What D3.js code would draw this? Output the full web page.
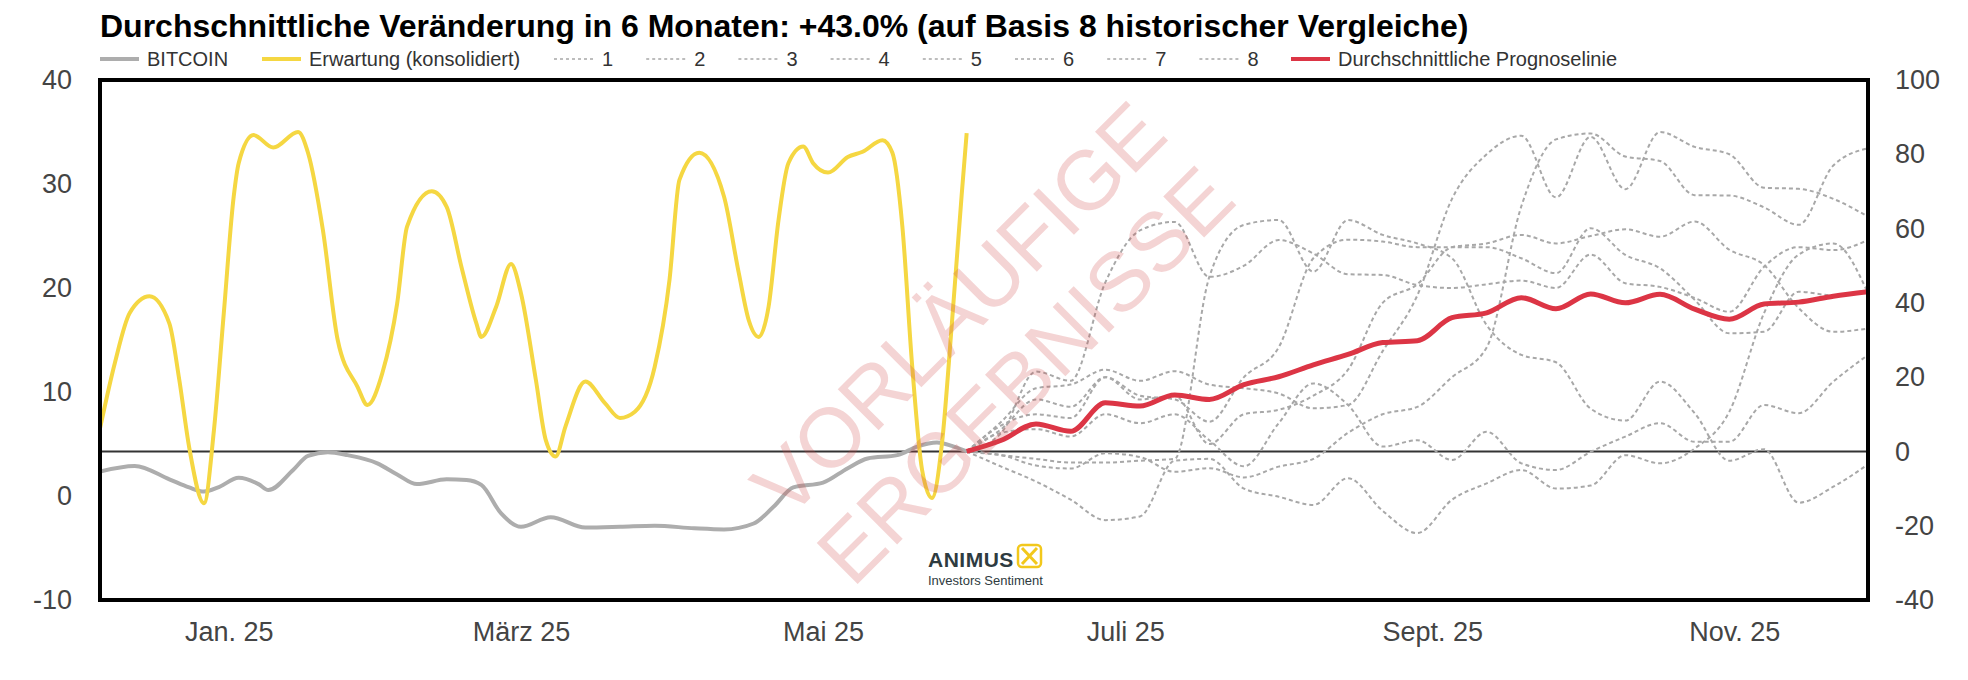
<!DOCTYPE html>
<html><head><meta charset="utf-8">
<script src="https://cdn.jsdelivr.net/npm/d3@7"></script>
<style>
body{margin:0;background:#fff;}
svg{display:block;font-family:"Liberation Sans",Arial,Helvetica,sans-serif;}
</style></head><body>
<svg id="chart" width="1968" height="680"></svg>
<script>
const titleText = "Durchschnittliche Veränderung in 6 Monaten: +43.0% (auf Basis 8 historischer Vergleiche)";
const monthTicks = ["2025-01-01","2025-03-01","2025-05-01","2025-07-01","2025-09-01","2025-11-01"];
const monthLabels = ["Jan. 25","März 25","Mai 25","Juli 25","Sept. 25","Nov. 25"];
const leftTicks = [-10,0,10,20,30,40];
const rightTicks = [-40,-20,0,20,40,60,80,100];
const xDomain = ["2024-12-06","2025-11-28"];

const btcDates = ["2024-12-06","2024-12-13","2024-12-20","2024-12-24","2024-12-27","2024-12-30","2025-01-03","2025-01-07","2025-01-09","2025-01-14","2025-01-17","2025-01-21","2025-01-25","2025-01-31","2025-02-04","2025-02-08","2025-02-14","2025-02-18","2025-02-21","2025-02-25","2025-03-01","2025-03-07","2025-03-14","2025-03-21","2025-03-28","2025-04-05","2025-04-11","2025-04-17","2025-04-21","2025-04-25","2025-05-01","2025-05-06","2025-05-10","2025-05-16","2025-05-20","2025-05-24","2025-05-27","2025-05-30"];
const btcValues = [-5.4,-3.9,-7.5,-9.7,-10.8,-9.6,-7.1,-8.8,-10.4,-5,-1.2,-0.2,-1,-3.2,-6.2,-8.8,-7.5,-7.7,-9,-16.7,-20.3,-17.7,-20.5,-20.3,-20,-20.7,-21,-19.4,-14.9,-9.7,-8.4,-4.5,-1.9,-1,1.3,2.4,1.5,0];

const expDates = ["2024-12-06","2024-12-09","2024-12-12","2024-12-16","2024-12-20","2024-12-22","2024-12-24","2024-12-27","2024-12-29","2024-12-31","2025-01-02","2025-01-03","2025-01-06","2025-01-10","2025-01-15","2025-01-17","2025-01-20","2025-01-23","2025-01-27","2025-01-29","2025-02-01","2025-02-04","2025-02-06","2025-02-11","2025-02-14","2025-02-17","2025-02-20","2025-02-21","2025-02-24","2025-02-27","2025-03-01","2025-03-04","2025-03-06","2025-03-08","2025-03-10","2025-03-14","2025-03-18","2025-03-21","2025-03-24","2025-03-28","2025-03-31","2025-04-02","2025-04-06","2025-04-11","2025-04-14","2025-04-16","2025-04-18","2025-04-20","2025-04-22","2025-04-24","2025-04-27","2025-04-29","2025-05-02","2025-05-06","2025-05-09","2025-05-13","2025-05-15","2025-05-17","2025-05-19","2025-05-21","2025-05-23","2025-05-25","2025-05-27","2025-05-29","2025-05-30"];
const expValues = [6.5,12.8,17.6,19.2,16.6,11.2,4.7,-0.7,6.3,17.6,28.8,32,34.7,33.5,35,33,25.6,15,10.5,8.75,11.8,18.5,25.9,29.3,27.8,22,16.6,15.3,18.2,22.3,19.5,11.2,5.4,3.8,6.7,11,8.9,7.5,8.1,12.4,20.8,30.4,33,28.8,21.4,16.9,15.3,18.2,26.5,32,33.6,32,31.1,32.6,33.1,34.2,33,26,12.5,2.5,-0.2,5,16.5,29,34.9];

const forecastDates = ["2025-05-30","2025-06-06","2025-06-13","2025-06-20","2025-06-27","2025-07-04","2025-07-11","2025-07-18","2025-07-25","2025-08-01","2025-08-08","2025-08-15","2025-08-22","2025-08-29","2025-09-05","2025-09-12","2025-09-19","2025-09-26","2025-10-03","2025-10-10","2025-10-17","2025-10-24","2025-10-31","2025-11-07","2025-11-14","2025-11-21","2025-11-28"];
const avgForecast = [0,3.0,7.4,5.4,13.1,12.2,15.2,14,18,20.1,23.3,26.1,29.3,29.8,36,37.3,41.4,38.4,42.4,40,42.3,38.3,35.6,39.7,40.2,41.8,43];

const hist1 = [0,-1,-3.8,-4.6,-0.5,-1.5,-5.5,-4.5,-7,-4.1,-2,5,10,12,20,28,66,84,85.6,79.4,78.2,69,68.9,65.7,61,77,81.6];
const hist2 = [0,8,17,18,22,19,21.6,18,17,15.6,11.6,12.5,27,42,68,80,85,68.4,84.7,70.6,86,82,80,71,70.7,68,63.2];
const hist3 = [0,6,14,12,20,15,14,8,20,28,52,57,56.5,55,55,55,52,48,60.1,52.9,49.3,40.8,31.8,32.2,43,42,43.5];
const hist4 = [0,5,21.5,19,45.5,59.5,61.8,47,50,56.9,53.3,47.7,47.5,44.8,44,45,46,44,53,45.3,44.3,41.3,37.6,49.7,55,54.2,56.9];
const hist5 = [0,7,10,9,20,14,15,2,10,11.2,15,22,40,45,55,56,58.3,56,58,59.8,57.8,61.9,54.3,50.2,38.6,32.2,33.1];
const hist6 = [0,-1,-2,-3,-3,-2.5,-2,47,61,62.3,48.4,62.3,58.3,56,52,34,26,24,11.5,8.3,18.8,10.3,-2.5,0.6,-13.8,-9.5,-3.5];
const hist7 = [0,5,6,4,10,7.6,10,3,-4,7.6,18.3,12.5,1.3,3,-2.3,5.3,-3.2,-5,-0.1,4,7.6,2.6,2.6,12.5,10.3,18.8,26];
const hist8 = [0,-4.1,-8.1,-13,-18.5,-17.5,-2.5,-2,-10,-12.2,-14.4,-7.2,-16,-22,-13,-8.6,-5,-10,-9.2,-1,-3.2,0.8,10.7,37.2,53,56,42.6];
const histNames = ["1","2","3","4","5","6","7","8"];
const legendNames = ["BITCOIN","Erwartung (konsolidiert)","Durchschnittliche Prognoselinie"];
const watermarkLines = ["VORLÄUFIGE","ERGEBNISSE"];
const logoTexts = ["ANIMUS","Investors Sentiment"];

const P = {l:100, r:1868, t:80, b:600};
const parse = d3.utcParse("%Y-%m-%d");
const svg = d3.select("#chart");
svg.append("rect").attr("width",1968).attr("height",680).attr("fill","#fff");

const x = d3.scaleUtc().domain(xDomain.map(parse)).range([P.l,P.r]);
const yL = d3.scaleLinear().domain([-10,40]).range([P.b,P.t]);
const yR = d3.scaleLinear().domain([-40,100]).range([P.b,P.t]);

svg.append("defs").append("clipPath").attr("id","plotclip")
  .append("rect").attr("x",P.l).attr("y",P.t).attr("width",P.r-P.l).attr("height",P.b-P.t);

svg.append("text").attr("x",100).attr("y",37).attr("font-size",32).attr("font-weight","bold")
  .attr("fill","#000").text(titleText);

const fmt = d => String(d);
const axL = svg.append("g").attr("transform",`translate(${P.l-28},0)`)
  .call(d3.axisLeft(yL).tickValues(leftTicks).tickSize(0).tickPadding(0).tickFormat(fmt));
const axR = svg.append("g").attr("transform",`translate(${P.r+27},0)`)
  .call(d3.axisRight(yR).tickValues(rightTicks).tickSize(0).tickPadding(0).tickFormat(fmt));
const axB = svg.append("g").attr("transform",`translate(0,${P.b+22})`)
  .call(d3.axisBottom(x).tickValues(monthTicks.map(parse)).tickSize(0).tickPadding(0)
    .tickFormat((d,i)=>monthLabels[i]));
[axL,axR,axB].forEach(a=>{a.select(".domain").remove();
  a.attr("font-size",27).attr("font-family","'Liberation Sans',Arial,sans-serif");
  a.selectAll("text").attr("font-size",27).attr("fill","#444");});
axB.selectAll("text").attr("dy","0.71em");

const plot = svg.append("g").attr("clip-path","url(#plotclip)");
plot.append("line").attr("x1",P.l).attr("x2",P.r).attr("y1",yR(0)).attr("y2",yR(0))
  .attr("stroke","#333").attr("stroke-width",2);

const curve = d3.curveMonotoneX;
const lineR = (dates, vals) => d3.line().curve(curve).x((d,i)=>x(parse(dates[i]))).y(d=>yR(d))(vals);
const lineL = (dates, vals) => d3.line().curve(curve).x((d,i)=>x(parse(dates[i]))).y(d=>yL(d))(vals);

const hists = [hist1,hist2,hist3,hist4,hist5,hist6,hist7,hist8];
hists.forEach(h=>{
  plot.append("path").attr("d",lineR(forecastDates,h)).attr("fill","none")
    .attr("stroke","#a8a8a8").attr("stroke-width",2).attr("stroke-dasharray","4,3");
});
plot.append("path").attr("d",lineR(btcDates,btcValues)).attr("fill","none")
  .attr("stroke","#adadad").attr("stroke-width",4).attr("stroke-linejoin","round");
plot.append("path").attr("d",lineL(expDates,expValues)).attr("fill","none")
  .attr("stroke","#f5d742").attr("stroke-width",4).attr("stroke-linejoin","round");
plot.append("path").attr("d",lineR(forecastDates,avgForecast)).attr("fill","none")
  .attr("stroke","#dc3545").attr("stroke-width",5).attr("stroke-linejoin","round");

const cx=(P.l+P.r)/2+8, cy=(P.t+P.b)/2+2;
const wm = svg.append("g").attr("transform",`translate(${cx},${cy}) rotate(-45)`);
watermarkLines.forEach((t,i)=>{
  wm.append("text").attr("x",0).attr("y",(i-0.5)*94).attr("text-anchor","middle")
    .attr("dominant-baseline","central").attr("font-size",84).attr("fill","#d24b4b")
    .attr("fill-opacity",0.24).text(t);
});

const lg = svg.append("g");
lg.append("text").attr("x",928).attr("y",567).attr("font-size",21).attr("font-weight","bold")
  .attr("fill","#2e3b40").attr("letter-spacing",0.5).text(logoTexts[0]);
lg.append("rect").attr("x",1018).attr("y",545).attr("width",23).attr("height",22).attr("rx",4)
  .attr("fill","none").attr("stroke","#f2c81c").attr("stroke-width",2.5);
lg.append("path").attr("d","M1022,548 L1037,564 M1037,548 L1022,564").attr("stroke","#f2c81c").attr("stroke-width",3);
lg.append("text").attr("x",928).attr("y",585).attr("font-size",13).attr("fill","#2e3b40").text(logoTexts[1]);

svg.append("rect").attr("x",P.l).attr("y",P.t).attr("width",P.r-P.l).attr("height",P.b-P.t)
  .attr("fill","none").attr("stroke","#000").attr("stroke-width",4);

const leg = svg.append("g").attr("font-size",20).attr("fill","#333");
const legItems = [
  {name:legendNames[0], x:100, type:"solid", color:"#adadad", w:4},
  {name:legendNames[1], x:262, type:"solid", color:"#f5d742", w:4},
];
histNames.forEach((n,i)=>legItems.push({name:n, x:554+i*92.2, type:"dash", color:"#a8a8a8", w:1.5}));
legItems.push({name:legendNames[2], x:1291, type:"solid", color:"#dc3545", w:4});
legItems.forEach(it=>{
  leg.append("line").attr("x1",it.x).attr("x2",it.x+39).attr("y1",59).attr("y2",59)
    .attr("stroke",it.color).attr("stroke-width",it.w)
    .attr("stroke-dasharray",it.type==="dash"?"3,3":null);
  leg.append("text").attr("x",it.x+(it.type==="dash"?48:47)).attr("y",66).attr("fill","#333").text(it.name);
});
</script>
</body></html>
